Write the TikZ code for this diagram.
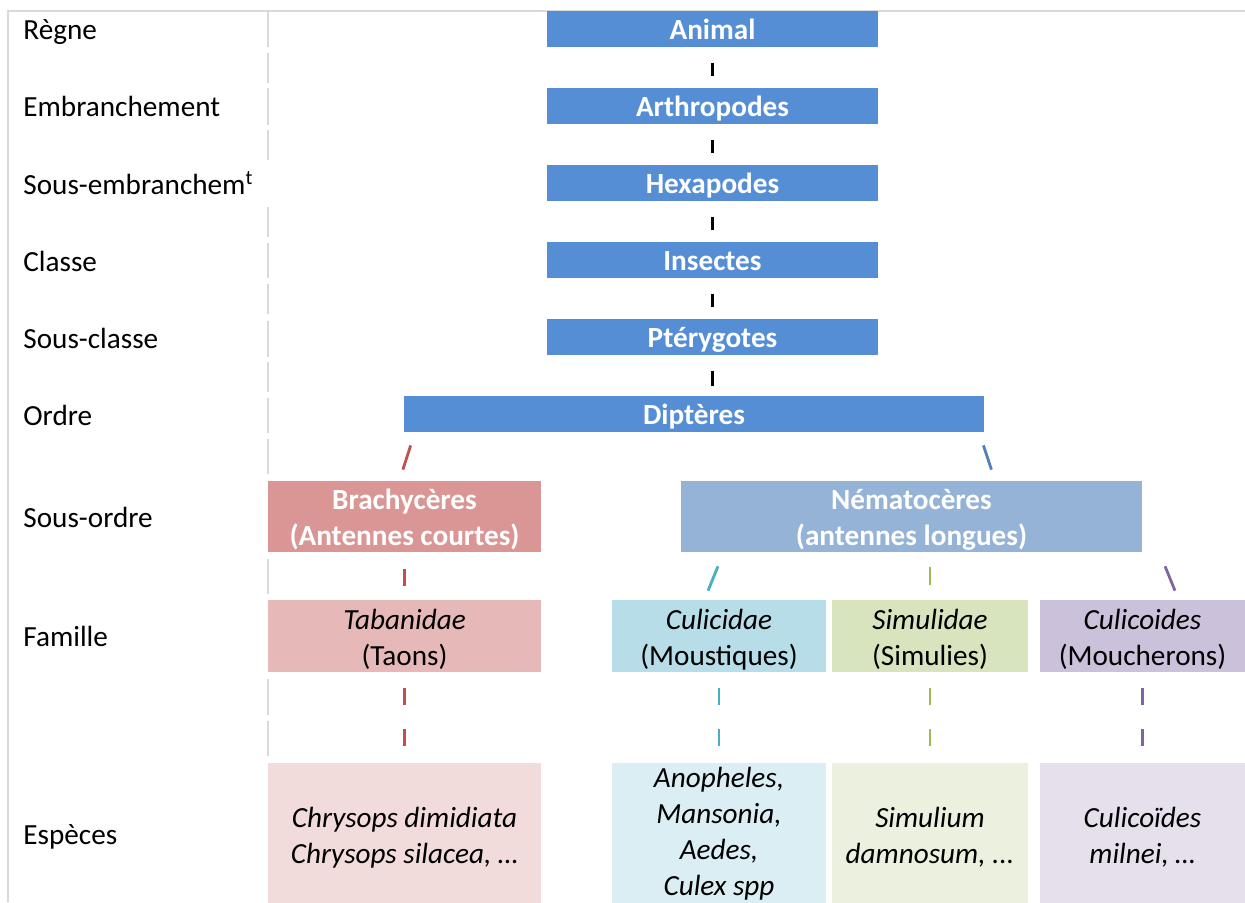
\documentclass[tikz,border=0pt]{standalone}
\usepackage{fontspec}
\setmainfont{Carlito}
\usetikzlibrary{positioning, calc}

\definecolor{bleu}{HTML}{558ED5}
\definecolor{bleuclair}{HTML}{95B3D7}
\definecolor{rouge}{HTML}{D99694}
\definecolor{rougeclair}{HTML}{E6B9B8}
\definecolor{rougepale}{HTML}{F2DCDB}
\definecolor{cyanclair}{HTML}{B7DEE8}
\definecolor{cyanpale}{HTML}{DBEEF4}
\definecolor{vertclair}{HTML}{D7E4BD}
\definecolor{vertpale}{HTML}{EBF1DE}
\definecolor{violetclair}{HTML}{CCC1DA}
\definecolor{violetpale}{HTML}{E5E0EC}
\definecolor{traitrouge}{HTML}{C0504D}
\definecolor{traitbleu}{HTML}{4F81BD}
\definecolor{traitcyan}{HTML}{4BACC6}
\definecolor{traitvert}{HTML}{9BBB59}
\definecolor{traitviolet}{HTML}{8064A2}
\definecolor{grille}{HTML}{D9D9D9}

\begin{document}
\begin{tikzpicture}[
            x = 0.5pt, y = -0.5pt, % one unit = one pixel of the scan
            node distance = 20.1pt, % gap between the blue boxes
            font = \fontsize{14.6}{18}\selectfont,
            rangnom/.style = {anchor=base west, inner sep=0pt},
            taxon/.style = {fill=bleu, text=white, font=\fontsize{14.6}{18}\selectfont\bfseries,
                inner sep=0pt, minimum width=165.5pt, minimum height=18pt,
                text height=10pt, text depth=0pt},
            sousordre/.style = {text=white, font=\fontsize{14.6}{18}\selectfont\bfseries,
                inner sep=0pt, minimum height=35.5pt, align=center,
                text height=29pt, text depth=0pt},
            famille/.style = {inner sep=0pt, minimum height=36pt, align=center,
                text height=29.5pt, text depth=0pt},
            espece/.style = {inner sep=0pt, minimum height=70pt, align=center,
                font=\fontsize{14.6}{18}\selectfont\itshape,
                text height=30.5pt, text depth=0pt},
            trait/.style = {line width=1.4pt},
            grid line/.style = {draw=grille, line width=0.6pt}
        ]
        \useasboundingbox (0,0) rectangle (1245,902);

        % table lines
        \draw[grid line] (8,902) -- (8,11) -- (1245,11);
        \foreach \a/\b in {12/47, 53/83, 88/125, 130/160, 207/237, 243/278, 284/314,
            321/357, 362/392, 398/433, 439/474, 559/594, 679/715, 721/756}
            \draw[grid line] (268,\a) -- (268,\b);

        % ranks
        \node[rangnom] (lregne) at (23,39.5) {Règne};
        \node[rangnom] (lembr) at (23,116.5) {Embranchement};
        \node[rangnom] (lsembr) at (23,194.5) {Sous-embranchem\textsuperscript{t}};
        \node[rangnom] (lclasse) at (23,271.5) {Classe};
        \node[rangnom] (lsclasse) at (23,348.5) {Sous-classe};
        \node[rangnom] (lordre) at (23,425.5) {Ordre};
        \node[rangnom] (lsordre) at (23,527.5) {Sous-ordre};
        \node[rangnom] (lfamille) at (23,646.5) {Famille};
        \node[rangnom] (lespece) at (23,844.5) {Espèces};

        % blue chain
        \node[taxon] (animal) at (712.5,29) {Animal};
        \node[taxon] (arthro) [below=of animal] {Arthropodes};
        \node[taxon] (hexa) [below=of arthro] {Hexapodes};
        \node[taxon] (insecte) [below=of hexa] {Insectes};
        \node[taxon] (ptery) [below=of insecte] {Ptérygotes};
        \node[taxon, minimum width=290pt] (dipt) [below=of ptery, xshift=-9.25pt] {Diptères};

        % sub-orders
        \node[sousordre, fill=rouge, minimum width=136.5pt] (brachy) at (404.5,516.5)
            {Brachycères\\(Antennes courtes)};
        \node[sousordre, fill=bleuclair, minimum width=230.5pt] (nemato) at (911.5,516.5)
            {Nématocères\\(antennes longues)};

        % families
        \node[famille, fill=rougeclair, minimum width=136.5pt] (taba) at (404.5,636)
            {\textit{Tabanidae}\\(Taons)};
        \node[famille, fill=cyanclair, minimum width=107pt] (culi) at (719,636)
            {\textit{Culicidae}\\(Moustiques)};
        \node[famille, fill=vertclair, minimum width=98pt] (simu) at (930,636)
            {\textit{Simulidae}\\(Simulies)};
        \node[famille, fill=violetclair, minimum width=102.5pt] (culco) at (1142.5,636)
            {\textit{Culicoides}\\(Moucherons)};

        % species
        \node[espece, fill=rougepale, minimum width=136.5pt] (tabaesp) [below=45pt of taba]
            {Chrysops dimidiata\\Chrysops silacea, …};
        \node[espece, fill=cyanpale, minimum width=107pt, text height=63pt] (culiesp) [below=45pt of culi]
            {Anopheles,\\Mansonia,\\Aedes,\\ Culex spp};
        \node[espece, fill=vertpale, minimum width=98pt] (simuesp) [below=45pt of simu]
            {Simulium\\damnosum, ...};
        \node[espece, fill=violetpale, minimum width=102.5pt] (culcoesp) [below=45pt of culco]
            {Culicoïdes\\milnei, …};

        % links
        \path[line width=1.6pt, shorten <=8pt, shorten >=6pt] (animal) edge (arthro);
        \path[line width=1.6pt, shorten <=8pt, shorten >=6pt] (arthro) edge (hexa);
        \path[line width=1.6pt, shorten <=8pt, shorten >=6pt] (hexa) edge (insecte);
        \path[line width=1.6pt, shorten <=8pt, shorten >=6pt] (insecte) edge (ptery);
        \path[line width=1.6pt, shorten <=8pt, shorten >=5pt] (ptery) edge (ptery |- dipt.north);

        \path[trait, traitrouge, shorten <=6.85pt, shorten >=5.8pt]
            ($(dipt.south west)+(11.3,0)$) edge ($(brachy.north)+(-5.2,0)$);
        \path[trait, traitbleu, shorten <=6.85pt, shorten >=5.8pt]
            ($(dipt.south east)+(-5.3,0)$) edge ($(dipt.south east |- nemato.north)+(10.7,0)$);

        \path[trait, traitrouge, shorten <=8.5pt, shorten >=7pt] (brachy) edge (taba);
        \path[trait, traitcyan, shorten <=7.5pt, shorten >=4.85pt]
            ($(culi.north |- nemato.south)+(4.6,0)$) edge ($(culi.north)+(-14.6,0)$);
        \path[trait, traitvert, shorten <=7.5pt, shorten >=7.5pt] (nemato.south -| simu.north) edge (simu);
        \path[trait, traitviolet, shorten <=7.5pt, shorten >=4.85pt]
            ($(culco.north |- nemato.south)+(16.9,0)$) edge ($(culco.north)+(36.1,0)$);

        \path[trait, traitrouge, dash pattern=on 8.5pt off 12pt, shorten <=8pt, shorten >=7.5pt] (taba) edge (tabaesp);
        \path[trait, traitcyan, dash pattern=on 8.5pt off 12pt, shorten <=8pt, shorten >=7.5pt] (culi) edge (culiesp);
        \path[trait, traitvert, dash pattern=on 8.5pt off 12pt, shorten <=8pt, shorten >=7.5pt] (simu) edge (simuesp);
        \path[trait, traitviolet, dash pattern=on 8.5pt off 12pt, shorten <=8pt, shorten >=7.5pt] (culco) edge (culcoesp);
\end{tikzpicture}
\end{document}
